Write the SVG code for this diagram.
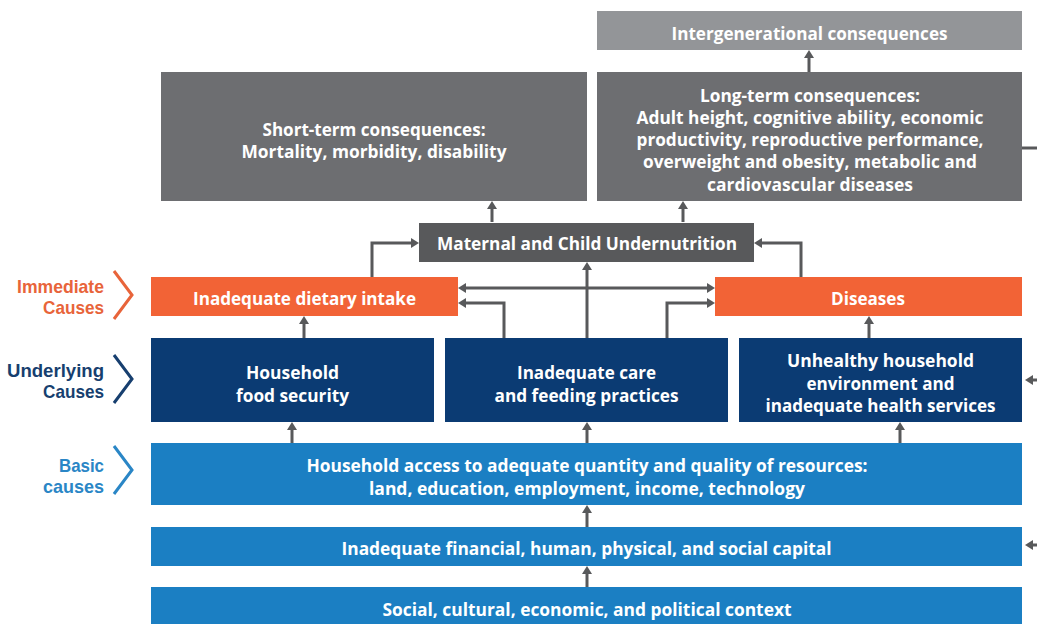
<svg xmlns="http://www.w3.org/2000/svg" width="1037" height="624" viewBox="0 0 1037 624">
  <style>
    .t { font-family: "Open Sans", "Liberation Sans", sans-serif; font-weight: 700; font-size: 18px; fill: #ffffff; text-anchor: middle; }
    .lbl { font-family: "Liberation Sans", "Open Sans", sans-serif; font-weight: 700; font-size: 18.5px; text-anchor: end; }
    .cons { fill: #6d6e71; }
    .inter { fill: #939598; }
    .mcu { fill: #58595b; }
    .imm { fill: #f26336; }
    .und { fill: #0b3b73; }
    .bas { fill: #1b7fc3; }
    .conn { fill: none; stroke: #58595b; stroke-width: 3; }
    .chev { fill: none; stroke-width: 3; }
  </style>
  <defs>
    <marker id="ah" viewBox="0 0 8 10" refX="2" refY="5" markerWidth="8" markerHeight="10" markerUnits="userSpaceOnUse" orient="auto-start-reverse">
      <path d="M0,0 L8,5 L0,10 z" fill="#58595b"/>
    </marker>
  </defs>
  <rect width="1037" height="624" fill="#ffffff"/>

  <!-- level labels -->
  <g id="label-immediate">
    <text class="lbl" x="104" y="293" fill="#e8643a" textLength="87" lengthAdjust="spacingAndGlyphs">Immediate</text>
    <text class="lbl" x="104" y="314" fill="#e8643a" textLength="61" lengthAdjust="spacingAndGlyphs">Causes</text>
    <path class="chev" stroke="#e8643a" d="M114,271 L132,295 L114,319"/>
  </g>
  <g id="label-underlying">
    <text class="lbl" x="104" y="377" fill="#173f6f" textLength="97" lengthAdjust="spacingAndGlyphs">Underlying</text>
    <text class="lbl" x="104" y="398" fill="#173f6f" textLength="61" lengthAdjust="spacingAndGlyphs">Causes</text>
    <path class="chev" stroke="#173f6f" d="M114,355 L132,379 L114,403"/>
  </g>
  <g id="label-basic">
    <text class="lbl" x="104" y="472" fill="#2a86c6" textLength="45" lengthAdjust="spacingAndGlyphs">Basic</text>
    <text class="lbl" x="104" y="493" fill="#2a86c6" textLength="61" lengthAdjust="spacingAndGlyphs">causes</text>
    <path class="chev" stroke="#2a86c6" d="M114,446 L132,470 L114,494"/>
  </g>

  <!-- consequences -->
  <g id="intergenerational">
    <rect class="inter" x="597" y="11" width="425" height="39"/>
    <text class="t" x="809.5" y="40" textLength="276" lengthAdjust="spacingAndGlyphs">Intergenerational consequences</text>
  </g>
  <g id="short-term">
    <rect class="cons" x="161" y="72" width="426" height="129"/>
    <text class="t" x="374" y="136" textLength="223" lengthAdjust="spacingAndGlyphs">Short-term consequences:</text>
    <text class="t" x="374" y="158" textLength="265" lengthAdjust="spacingAndGlyphs">Mortality, morbidity, disability</text>
  </g>
  <g id="long-term">
    <rect class="cons" x="597" y="72" width="425" height="129"/>
    <text class="t" x="810" y="102" textLength="220" lengthAdjust="spacingAndGlyphs">Long-term consequences:</text>
    <text class="t" x="810" y="124" textLength="347" lengthAdjust="spacingAndGlyphs">Adult height, cognitive ability, economic</text>
    <text class="t" x="810" y="146" textLength="347" lengthAdjust="spacingAndGlyphs">productivity, reproductive performance,</text>
    <text class="t" x="810" y="168" textLength="334" lengthAdjust="spacingAndGlyphs">overweight and obesity, metabolic and</text>
    <text class="t" x="810" y="191" textLength="206" lengthAdjust="spacingAndGlyphs">cardiovascular diseases</text>
  </g>

  <g id="undernutrition">
    <rect class="mcu" x="419" y="223" width="335" height="39"/>
    <text class="t" x="587" y="250" textLength="300" lengthAdjust="spacingAndGlyphs">Maternal and Child Undernutrition</text>
  </g>

  <!-- immediate causes -->
  <g id="dietary-intake">
    <rect class="imm" x="151" y="277" width="307" height="39"/>
    <text class="t" x="304.5" y="305" textLength="223" lengthAdjust="spacingAndGlyphs">Inadequate dietary intake</text>
  </g>
  <g id="diseases">
    <rect class="imm" x="715" y="277" width="307" height="39"/>
    <text class="t" x="868" y="305" textLength="74" lengthAdjust="spacingAndGlyphs">Diseases</text>
  </g>

  <!-- underlying causes -->
  <g id="food-security">
    <rect class="und" x="151" y="338" width="283" height="84"/>
    <text class="t" x="292.5" y="379" textLength="93" lengthAdjust="spacingAndGlyphs">Household</text>
    <text class="t" x="292.5" y="402" textLength="113" lengthAdjust="spacingAndGlyphs">food security</text>
  </g>
  <g id="care-feeding">
    <rect class="und" x="445" y="338" width="283" height="84"/>
    <text class="t" x="586.5" y="379" textLength="139" lengthAdjust="spacingAndGlyphs">Inadequate care</text>
    <text class="t" x="586.5" y="402" textLength="184" lengthAdjust="spacingAndGlyphs">and feeding practices</text>
  </g>
  <g id="household-environment">
    <rect class="und" x="739" y="338" width="283" height="84"/>
    <text class="t" x="880.5" y="367" textLength="187" lengthAdjust="spacingAndGlyphs">Unhealthy household</text>
    <text class="t" x="880.5" y="390" textLength="148" lengthAdjust="spacingAndGlyphs">environment and</text>
    <text class="t" x="880.5" y="412" textLength="230" lengthAdjust="spacingAndGlyphs">inadequate health services</text>
  </g>

  <!-- basic causes -->
  <g id="resources">
    <rect class="bas" x="151" y="443" width="871" height="62"/>
    <text class="t" x="587" y="472" textLength="561" lengthAdjust="spacingAndGlyphs">Household access to adequate quantity and quality of resources:</text>
    <text class="t" x="587" y="495" textLength="436" lengthAdjust="spacingAndGlyphs">land, education, employment, income, technology</text>
  </g>
  <g id="capital">
    <rect class="bas" x="151" y="527" width="871" height="39"/>
    <text class="t" x="586.5" y="555" textLength="490" lengthAdjust="spacingAndGlyphs">Inadequate financial, human, physical, and social capital</text>
  </g>
  <g id="context">
    <rect class="bas" x="151" y="587" width="871" height="40"/>
    <text class="t" x="587" y="616" textLength="409" lengthAdjust="spacingAndGlyphs">Social, cultural, economic, and political context</text>
  </g>

  <!-- connectors -->
  <g id="connectors">
    <path class="conn" marker-end="url(#ah)" d="M492,222 V207"/>
    <path class="conn" marker-end="url(#ah)" d="M683,222 V207"/>
    <path class="conn" marker-end="url(#ah)" d="M809,72 V56"/>
    <path class="conn" d="M1022,148 H1037"/>
    <path class="conn" marker-end="url(#ah)" d="M372,277 V243 H413"/>
    <path class="conn" marker-end="url(#ah)" d="M801,277 V243 H760"/>
    <path class="conn" marker-start="url(#ah)" marker-end="url(#ah)" d="M464,288 H709"/>
    <path class="conn" marker-end="url(#ah)" d="M587,338 V268"/>
    <path class="conn" marker-end="url(#ah)" d="M504,338 V303 H464"/>
    <path class="conn" marker-end="url(#ah)" d="M667,338 V303 H709"/>
    <path class="conn" marker-end="url(#ah)" d="M304,338 V322"/>
    <path class="conn" marker-end="url(#ah)" d="M869,338 V322"/>
    <path class="conn" marker-end="url(#ah)" d="M292,443 V428"/>
    <path class="conn" marker-end="url(#ah)" d="M587,443 V428"/>
    <path class="conn" marker-end="url(#ah)" d="M900,443 V428"/>
    <path class="conn" marker-end="url(#ah)" d="M587,527 V511"/>
    <path class="conn" marker-end="url(#ah)" d="M587,587 V572"/>
    <path class="conn" marker-end="url(#ah)" d="M1037,380 H1031"/>
    <path class="conn" marker-end="url(#ah)" d="M1037,545 H1031"/>
  </g>
</svg>
